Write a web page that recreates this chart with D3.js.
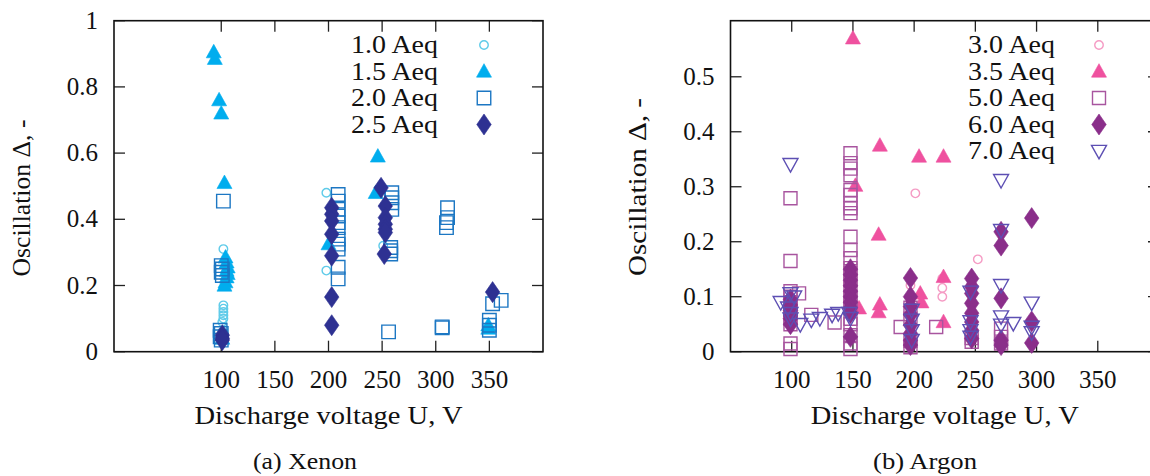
<!DOCTYPE html>
<html>
<head>
<meta charset="utf-8">
<script src="https://cdn.jsdelivr.net/npm/d3@7"></script>
<style>
  body { margin: 0; background: #fff; }
</style>
</head>
<body>
<svg id="chart" width="1150" height="476"></svg>
<script>
/**** DATA ****/

// x tick values shared by both panels
var xTicks = [100, 150, 200, 250, 300, 350];
var xenonYTicks = [0, 0.2, 0.4, 0.6, 0.8, 1];
var argonYTicks = [0, 0.1, 0.2, 0.3, 0.4, 0.5];

var xenonLabels = ["1.0 Aeq", "1.5 Aeq", "2.0 Aeq", "2.5 Aeq"];
var argonLabels = ["3.0 Aeq", "3.5 Aeq", "5.0 Aeq", "6.0 Aeq", "7.0 Aeq"];

// [discharge voltage U (V), oscillation delta]
var xe10 = [[102,0.31],[102,0.14],[102,0.13],[102,0.12],[102,0.11],[102,0.10],[101,0.09],
  [101,0.06],[101,0.05],[198,0.48],[198,0.245],[251,0.32]];
var xe15 = [[93,0.905],[94,0.885],[98,0.76],[100,0.72],[103,0.51],[104,0.285],[105,0.27],
  [106,0.255],[105,0.245],[106,0.235],[105,0.225],[104,0.21],[103,0.20],[101,0.04],
  [200,0.325],[246,0.59],[244,0.48],[349,0.08],[349,0.07]];
var xe20 = [[102,0.455],[100,0.26],[101,0.25],[100,0.24],[101,0.23],[99,0.065],[100,0.055],
  [99,0.045],[100,0.035],
  [209,0.475],[209,0.455],[209,0.43],[209,0.41],[209,0.39],[209,0.375],[209,0.34],
  [209,0.325],[209,0.31],[209,0.255],[209,0.22],
  [259,0.48],[259,0.465],[259,0.45],[259,0.43],[258,0.315],[258,0.305],[258,0.295],[256,0.06],
  [311,0.435],[311,0.405],[310,0.39],[310,0.375],[306,0.075],[306,0.072],
  [350,0.095],[350,0.08],[350,0.065],[353,0.145],[361,0.155]];
var xe25 = [[101,0.05],[101,0.04],[101,0.035],[203,0.435],[203,0.415],[203,0.395],[203,0.355],
  [203,0.29],[203,0.165],[203,0.08],[249,0.495],[253,0.44],[253,0.405],[253,0.385],
  [253,0.37],[253,0.36],[252,0.295],[353,0.18]];

var ar30 = [[201,0.288],[252,0.168],[223,0.133],[223,0.116],[223,0.1],[197,0.121],[99,0.08],
  [148,0.1],[247,0.03]];
var ar35 = [[150,0.57],[152,0.302],[172,0.375],[171,0.213],[172,0.086],[171,0.072],[204,0.355],
  [224,0.355],[224,0.136],[224,0.054],[205,0.106],[206,0.09],[155,0.079],[99,0.07]];
var ar50 = [[99,0.279],[99,0.165],[99,0.11],[99,0.10],[99,0.09],[99,0.08],[99,0.07],[99,0.06],
  [99,0.05],[99,0.015],[99,0.005],[106,0.106],[116,0.067],[135,0.053],
  [148,0.361],[148,0.343],[148,0.333],[148,0.321],[148,0.294],[148,0.285],[148,0.27],
  [148,0.261],[148,0.252],[148,0.209],[148,0.185],[148,0.17],[148,0.152],[148,0.143],
  [148,0.13],[148,0.115],[148,0.10],[148,0.09],[148,0.08],[148,0.06],[148,0.05],[148,0.03],
  [148,0.015],[148,0.005],
  [189,0.045],[218,0.045],[197,0.08],[197,0.06],[197,0.02],[197,0.008],[247,0.025],
  [247,0.018],[271,0.042],[271,0.027],[271,0.015]];
var ar60 = [[99,0.095],[99,0.085],[99,0.075],[99,0.065],[99,0.06],[99,0.05],
  [148,0.15],[148,0.14],[148,0.13],[148,0.12],[148,0.11],[148,0.10],[148,0.09],[148,0.08],
  [148,0.07],[148,0.027],
  [197,0.134],[197,0.1],[197,0.082],[197,0.067],[197,0.048],[197,0.033],[197,0.021],[197,0.012],
  [247,0.133],[247,0.118],[247,0.106],[247,0.088],[247,0.07],[247,0.054],[247,0.039],[247,0.024],
  [271,0.218],[271,0.193],[271,0.097],[271,0.021],[271,0.012],
  [296,0.243],[296,0.055],[296,0.016]];
var ar70 = [[99,0.341],[99,0.106],[102,0.10],[91,0.09],[97,0.08],[99,0.07],[99,0.06],[107,0.05],
  [116,0.058],[123,0.061],[133,0.067],[138,0.07],[147,0.07],[148,0.061],
  [198,0.076],[198,0.058],[198,0.039],[198,0.021],
  [246,0.109],[246,0.055],[246,0.039],[246,0.027],
  [271,0.312],[271,0.221],[271,0.121],[271,0.064],[271,0.049],[281,0.052],
  [296,0.089],[296,0.045],[296,0.035]];

/**** MARKERS ****/

// custom symbol types, size is the marker width in pixels
var shapes = {
    circle: { draw: function(p, s) { p.moveTo(s / 2, 0); p.arc(0, 0, s / 2, 0, 2 * Math.PI); } },
    triangle: { draw: function(p, s) {
        var h = s * 0.9;
        p.moveTo(0, -h * 0.58); p.lineTo(s / 2, h * 0.42); p.lineTo(-s / 2, h * 0.42); p.closePath();
    } },
    triangleDown: { draw: function(p, s) {
        var h = s * 0.9;
        p.moveTo(0, h * 0.58); p.lineTo(s / 2, -h * 0.42); p.lineTo(-s / 2, -h * 0.42); p.closePath();
    } },
    square: { draw: function(p, s) { p.rect(-s / 2, -s / 2, s, s); } },
    diamond: { draw: function(p, s) {
        var h = s * 1.45;
        p.moveTo(0, -h / 2); p.lineTo(s / 2, 0); p.lineTo(0, h / 2); p.lineTo(-s / 2, 0); p.closePath();
    } }
};

/**** PANELS ****/

var FONT = "'Liberation Serif', 'DejaVu Serif', 'Times New Roman', Times, serif";
var svg = d3.select("#chart").attr("font-family", FONT);

var xenonPanel = {
    left: 114, right: 543, top: 20.7, bottom: 351.7,
    xDomain: [0, 400], yDomain: [0, 1], yTicks: xenonYTicks,
    yFormat: function(d) { return d === 0 || d === 1 ? String(d) : d3.format(".1f")(d); },
    series: [
        { data: xe10, label: xenonLabels[0], shape: "circle", size: 8.5, color: "#5fcbe9", fill: false },
        { data: xe15, label: xenonLabels[1], shape: "triangle", size: 15, color: "#00adee", fill: true },
        { data: xe20, label: xenonLabels[2], shape: "square", size: 13.5, color: "#1c77c3", fill: false },
        { data: xe25, label: xenonLabels[3], shape: "diamond", size: 14.5, color: "#2e3192", fill: true }
    ],
    legendX: 438, legendMarkX: 484, legendY: 53,
    yLabelX: 22, yLabelY: 198, yLabelLen: 157,
    caption: "(a) Xenon", captionX: 305
};

var argonPanel = {
    left: 730.5, right: 1159, top: 20.7, bottom: 351.7,
    xDomain: [50, 400], yDomain: [0, 0.602], yTicks: argonYTicks,
    yFormat: function(d) { return d === 0 ? "0" : d3.format(".1f")(d); },
    series: [
        { data: ar30, label: argonLabels[0], shape: "circle", size: 8.5, color: "#f59bc4", fill: false },
        { data: ar35, label: argonLabels[1], shape: "triangle", size: 15, color: "#ef519f", fill: true },
        { data: ar50, label: argonLabels[2], shape: "square", size: 13, color: "#a8559f", fill: false },
        { data: ar60, label: argonLabels[3], shape: "diamond", size: 14.5, color: "#8a2e8a", fill: true },
        { data: ar70, label: argonLabels[4], shape: "triangleDown", size: 15, color: "#5d4fb3", fill: false }
    ],
    legendX: 1055, legendMarkX: 1099, legendY: 53,
    yLabelX: 638, yLabelY: 187, yLabelLen: 178,
    caption: "(b) Argon", captionX: 925
};

function symbolPath(series) {
    return d3.symbol().type(shapes[series.shape]).size(series.size)();
}

function styleMarker(sel, series) {
    sel.attr("d", symbolPath(series))
        .attr("fill", series.fill ? series.color : "none")
        .attr("stroke", series.color)
        .attr("stroke-width", series.fill ? 0.6 : 1.4);
}

// text helper; len stretches Liberation Serif to the wider Computer Modern widths
function addText(g, size, len) {
    var t = g.append("text")
        .attr("font-family", FONT)
        .attr("font-size", size)
        .attr("fill", "#111");
    if (len) {
        t.attr("textLength", len).attr("lengthAdjust", "spacingAndGlyphs");
    }
    return t;
}

function drawPanel(cfg) {
    var x = d3.scaleLinear().domain(cfg.xDomain).range([cfg.left, cfg.right]);
    var y = d3.scaleLinear().domain(cfg.yDomain).range([cfg.bottom, cfg.top]);
    var g = svg.append("g");
    var tickLen = 11;

    // mirrored inward ticks on all four sides
    var axes = g.append("g").attr("stroke", "#222").attr("stroke-width", 1.3);
    axes.selectAll("line.xb").data(xTicks).enter().append("line")
        .attr("x1", x).attr("x2", x).attr("y1", cfg.bottom).attr("y2", cfg.bottom - tickLen);
    axes.selectAll("line.xt").data(xTicks).enter().append("line")
        .attr("x1", x).attr("x2", x).attr("y1", cfg.top).attr("y2", cfg.top + tickLen);
    axes.selectAll("line.yl").data(cfg.yTicks).enter().append("line")
        .attr("x1", cfg.left).attr("x2", cfg.left + tickLen).attr("y1", y).attr("y2", y);
    axes.selectAll("line.yr").data(cfg.yTicks).enter().append("line")
        .attr("x1", cfg.right).attr("x2", cfg.right - tickLen).attr("y1", y).attr("y2", y);

    g.append("rect")
        .attr("x", cfg.left).attr("y", cfg.top)
        .attr("width", cfg.right - cfg.left).attr("height", cfg.bottom - cfg.top)
        .attr("fill", "none").attr("stroke", "#111").attr("stroke-width", 1.6);

    // tick labels
    xTicks.forEach(function(d) {
        addText(g, 25).attr("x", x(d)).attr("y", cfg.bottom + 36)
            .attr("text-anchor", "middle").text(d);
    });
    cfg.yTicks.forEach(function(d) {
        addText(g, 25).attr("x", cfg.left - 16).attr("y", y(d) + 8)
            .attr("text-anchor", "end").text(cfg.yFormat(d));
    });

    // axis titles and caption
    addText(g, 26, 268).attr("x", (cfg.left + cfg.right) / 2).attr("y", 424)
        .attr("text-anchor", "middle").text("Discharge voltage U, V");
    addText(g, 26, cfg.yLabelLen)
        .attr("transform", "translate(" + (cfg.yLabelX + 8) + "," + cfg.yLabelY + ") rotate(-90)")
        .attr("text-anchor", "middle").text("Oscillation \u0394, -");
    addText(g, 24, 104).attr("x", cfg.captionX).attr("y", 469)
        .attr("text-anchor", "middle").text(cfg.caption);

    // points, series drawn in order so later ones sit on top
    cfg.series.forEach(function(s) {
        g.append("g").selectAll("path").data(s.data).enter().append("path")
            .attr("transform", function(d) { return "translate(" + x(d[0]) + "," + y(d[1]) + ")"; })
            .call(styleMarker, s);
    });

    // legend
    cfg.series.forEach(function(s, i) {
        var by = cfg.legendY + i * 26.5;
        addText(g, 26, 87).attr("x", cfg.legendX).attr("y", by)
            .attr("text-anchor", "end").text(s.label);
        g.append("path")
            .attr("transform", "translate(" + cfg.legendMarkX + "," + (by - 8) + ")")
            .call(styleMarker, s);
    });
}

drawPanel(xenonPanel);
drawPanel(argonPanel);
</script>
</body>
</html>
